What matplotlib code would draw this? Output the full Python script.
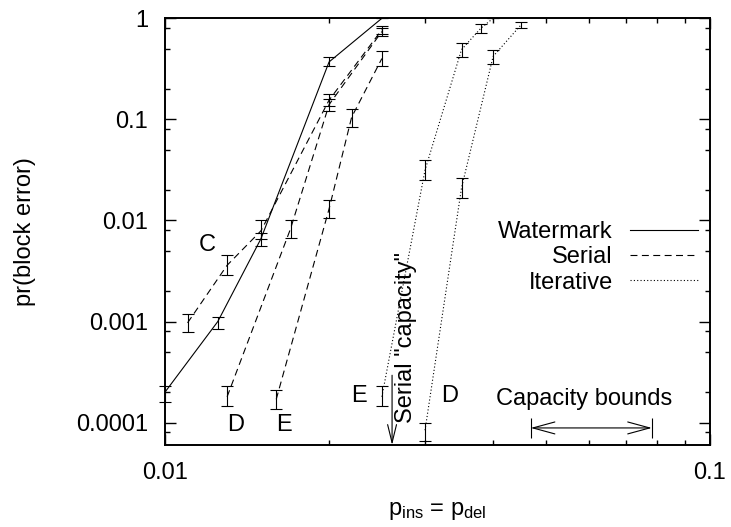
import numpy as np
import matplotlib
matplotlib.use("Agg")
import matplotlib.pyplot as plt
from matplotlib.ticker import LogLocator, NullFormatter

plt.rcParams['font.family'] = ['Liberation Sans', 'DejaVu Sans']
plt.rcParams['mathtext.fontset'] = 'custom'
plt.rcParams['mathtext.rm'] = 'Liberation Sans'
plt.rcParams['mathtext.it'] = 'Liberation Sans'
plt.rcParams['lines.scale_dashes'] = False

# ---------------- data ----------------
wm_x = [0.010, 0.0125, 0.015, 0.020, 0.025]
wm_y = [2.0e-4, 1.0e-3, 6.6e-3, 0.37, 1.0]
wm_lo = [1.6e-4, 8.5e-4, 5.6e-3, 0.337, 1.0]
wm_hi = [2.3e-4, 1.1e-3, 7.5e-3, 0.41, 1.0]

serC_x = [0.011, 0.013, 0.015, 0.020, 0.025]
serC_y = [9.7e-4, 3.6e-3, 7.9e-3, 0.155, 0.77]
serC_lo = [7.8e-4, 2.9e-3, 6.6e-3, 0.135, 0.70]
serC_hi = [1.18e-3, 4.6e-3, 1.0e-2, 0.18, 0.83]

serD_x = [0.013, 0.017, 0.020, 0.025]
serD_y = [1.8e-4, 8.3e-3, 0.14, 0.74]
serD_lo = [1.45e-4, 6.7e-3, 0.12, 0.67]
serD_hi = [2.3e-4, 1.01e-2, 0.16, 0.80]

serE_x = [0.016, 0.020, 0.022, 0.025]
serE_y = [1.7e-4, 1.3e-2, 0.105, 0.40]
serE_lo = [1.35e-4, 1.05e-2, 0.085, 0.337]
serE_hi = [2.1e-4, 1.6e-2, 0.128, 0.47]

itE_x = [0.025, 0.030, 0.035, 0.038, 0.040]
itE_y = [1.8e-4, 3.15e-2, 0.49, 0.80, 1.0]
itE_lo = [1.45e-4, 2.54e-2, 0.411, 0.71, 1.0]
itE_hi = [2.3e-4, 3.97e-2, 0.566, 0.878, 1.0]

itD_x = [0.030, 0.035, 0.040, 0.045]
itD_y = [8.4e-5, 2.1e-2, 0.42, 0.86]
itD_lo = [6.6e-5, 1.65e-2, 0.35, 0.795]
itD_hi = [1.0e-4, 2.6e-2, 0.486, 0.925]

x_ticks = [0.01, 0.1]
x_tick_labels = ['0.01', '0.1']
y_ticks = [1e-4, 1e-3, 1e-2, 1e-1, 1]
y_tick_labels = ['0.0001', '0.001', '0.01', '0.1', '1']

XMIN, XMAX = 0.01, 0.1
YMIN, YMAX = 6.0e-5, 1.0

serial_capacity_x = 0.0261
serial_capacity_top = 2.94e-4
cap_bounds_lo, cap_bounds_hi = 0.0469, 0.0782
cap_bounds_y = 8.85e-5

FS = 17
LW = 0.8
SOLID = '-'
DASHED = (0, (5.0, 3.2))
DOTTED = (0, (0.8, 1.6))

fig = plt.figure(figsize=(7.31, 5.27), dpi=100)
ax = fig.add_axes([165 / 731, 1 - 445 / 527, 545 / 731, 426.7 / 527])


def series(x, y, lo, hi, ls, label=None):
    x = np.asarray(x)
    y = np.asarray(y)
    yerr = [y - np.asarray(lo), np.asarray(hi) - y]
    line, = ax.plot(x, y, color='black', lw=LW, linestyle=ls, label=label)
    eb = ax.errorbar(x, y, yerr=yerr, fmt='none', ecolor='black',
                     elinewidth=LW, capsize=4, capthick=LW)
    for art in eb.get_children():
        art.set_clip_on(False)
    return line


h_wm = series(wm_x, wm_y, wm_lo, wm_hi, SOLID, 'Watermark')
h_ser = series(serC_x, serC_y, serC_lo, serC_hi, DASHED, 'Serial')
series(serD_x, serD_y, serD_lo, serD_hi, DASHED)
series(serE_x, serE_y, serE_lo, serE_hi, DASHED)
h_it = series(itE_x, itE_y, itE_lo, itE_hi, DOTTED, 'Iterative')
series(itD_x, itD_y, itD_lo, itD_hi, DOTTED)

ax.set_xscale('log')
ax.set_yscale('log')
ax.set_xlim(XMIN, XMAX)
ax.set_ylim(YMIN, YMAX)
ax.set_xticks(x_ticks, x_tick_labels)
ax.set_yticks(y_ticks, y_tick_labels)
ax.xaxis.set_minor_locator(LogLocator(base=10, subs=range(2, 10)))
ax.yaxis.set_minor_locator(LogLocator(base=10, subs=(2, 5, 8)))
ax.xaxis.set_minor_formatter(NullFormatter())
ax.yaxis.set_minor_formatter(NullFormatter())
ax.tick_params(which='both', direction='in', top=True, right=True,
               labelsize=FS, width=1.0, pad=12)
ax.tick_params(which='major', length=8)
ax.tick_params(which='minor', length=3.6)
for s in ax.spines.values():
    s.set_linewidth(1.4)

ax.set_xlabel(r'p$_{\mathrm{ins}}$ = p$_{\mathrm{del}}$', fontsize=FS)
ax.xaxis.label.set_va('center')
ax.xaxis.set_label_coords(0.5, (445 - 511) / 426.7)
ax.set_ylabel('pr(block error)', fontsize=FS)
ax.yaxis.label.set_va('center')
ax.yaxis.set_label_coords((25 - 165) / 545, 0.5)

# legend
ax.legend(handles=[h_wm, h_ser, h_it], loc='upper right',
          bbox_to_anchor=((698 - 165) / 545, (445 - 221) / 426.7),
          frameon=False, markerfirst=False, fontsize=FS,
          handlelength=2.88, handletextpad=0.72, labelspacing=0.14,
          borderpad=0, borderaxespad=0)

# curve labels
ax.text(0.01193, 5.0e-3, 'C', fontsize=FS, ha='center', va='baseline')
ax.text(0.0135, 8.26e-5, 'D', fontsize=FS, ha='center', va='baseline')
ax.text(0.01653, 8.26e-5, 'E', fontsize=FS, ha='center', va='baseline')
ax.text(0.02273, 1.6e-4, 'E', fontsize=FS, ha='center', va='baseline')
ax.text(0.03323, 1.6e-4, 'D', fontsize=FS, ha='center', va='baseline')

# serial capacity arrow
ax.annotate('', xy=(serial_capacity_x, YMIN), xytext=(serial_capacity_x, serial_capacity_top),
            arrowprops=dict(arrowstyle='->,head_length=13,head_width=3.2', mutation_scale=1,
                            lw=LW, color='black', shrinkA=0, shrinkB=0))
ax.text(0.02839, 9.8e-5, 'Serial "capacity"', fontsize=FS, rotation=90,
        rotation_mode='anchor', ha='left', va='baseline')

# capacity bounds
ax.annotate('', xy=(cap_bounds_hi, cap_bounds_y), xytext=(cap_bounds_lo, cap_bounds_y),
            arrowprops=dict(arrowstyle='<->,head_length=15.8,head_width=4.3', mutation_scale=1,
                            lw=LW, color='black', shrinkA=0, shrinkB=0))
ax.vlines([cap_bounds_lo, cap_bounds_hi], 7.1e-5, 1.1e-4, color='black', lw=LW)
ax.text(0.0587, 1.48e-4, 'Capacity bounds', fontsize=FS, ha='center', va='baseline')

fig.savefig('out.png', dpi=100)
